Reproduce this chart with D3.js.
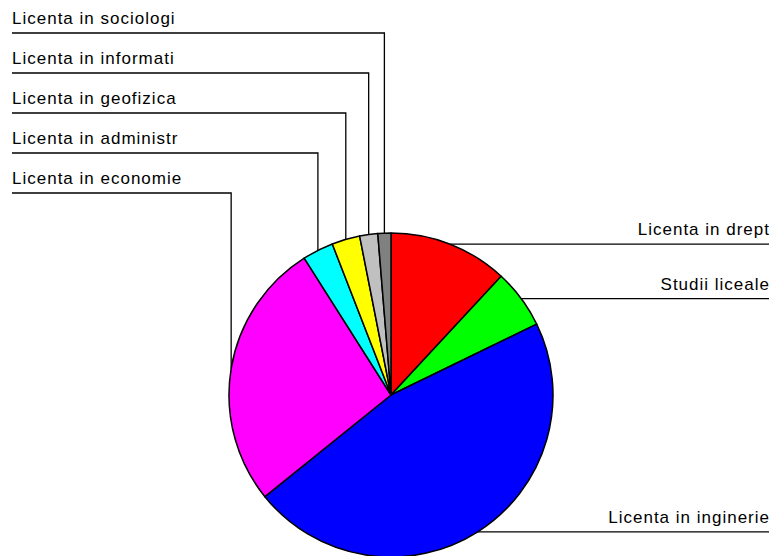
<!DOCTYPE html>
<html>
<head>
<meta charset="utf-8">
<script src="https://cdn.jsdelivr.net/npm/d3@7"></script>
<style>
  html, body { margin: 0; padding: 0; background: #fff; }
  text { font-family: "Liberation Sans", Arial, sans-serif; }
</style>
</head>
<body>
<svg id="chart" width="773" height="556"></svg>
<script>
// Data (clockwise from 12 o'clock)
const categories = ["Licenta in drept", "Studii liceale", "Licenta in inginerie", "Licenta in economie",
                    "Licenta in administr", "Licenta in geofizica", "Licenta in informati", "Licenta in sociologi"];
const values = [11.9, 5.9, 46.4, 26.8, 3.1, 2.8, 1.8, 1.3];
const colors = ["#FF0000", "#00FF00", "#0000FF", "#FF00FF", "#00FFFF", "#FFFF00", "#C0C0C0", "#808080"];
const sides = ["right", "right", "right", "left", "left", "left", "left", "left"];
const leftRows = [null, null, null, 4, 3, 2, 1, 0];

const W = 773, H = 556;
const cx = 391, cy = 395, R = 162;
const svg = d3.select("#chart");

const pie = d3.pie().sort(null).value(d => d.v).startAngle(0).endAngle(2 * Math.PI);
const data = categories.map((c, i) => ({ name: c, v: values[i], color: colors[i], side: sides[i], row: leftRows[i] }));
const arcs = pie(data);
const arc = d3.arc().innerRadius(0).outerRadius(R);

const g = svg.append("g").attr("transform", `translate(${cx},${cy})`);
g.selectAll("path.slice")
  .data(arcs)
  .join("path")
  .attr("class", "slice")
  .attr("d", arc)
  .attr("fill", d => d.data.color)
  .attr("stroke", "#000")
  .attr("stroke-width", 1.5)
  .attr("stroke-linejoin", "round");

// Leader lines + labels
const fontSize = 17;
const spacing = 1.0;
const leftX = 12, rightX = 769;
const rowY = r => 33 + r * 40;

arcs.forEach(a => {
  const mid = (a.startAngle + a.endAngle) / 2;
  const px = cx + R * Math.sin(mid);
  const py = cy - R * Math.cos(mid);
  if (a.data.side === "left") {
    const ly = rowY(a.data.row);
    svg.append("path")
      .attr("d", d3.line()([[leftX, ly], [px, ly], [px, py]]))
      .attr("fill", "none").attr("stroke", "#000").attr("stroke-width", 1.3);
    svg.append("text")
      .attr("x", leftX).attr("y", ly - 9)
      .attr("font-size", fontSize)
      .attr("letter-spacing", spacing)
      .attr("fill", "#000")
      .text(a.data.name);
  } else {
    const ly = py;
    svg.append("path")
      .attr("d", d3.line()([[px, ly], [rightX, ly]]))
      .attr("fill", "none").attr("stroke", "#000").attr("stroke-width", 1.3);
    svg.append("text")
      .attr("x", rightX + spacing).attr("y", ly - 9)
      .attr("text-anchor", "end")
      .attr("font-size", fontSize)
      .attr("letter-spacing", spacing)
      .attr("fill", "#000")
      .text(a.data.name);
  }
});
</script>
</body>
</html>
